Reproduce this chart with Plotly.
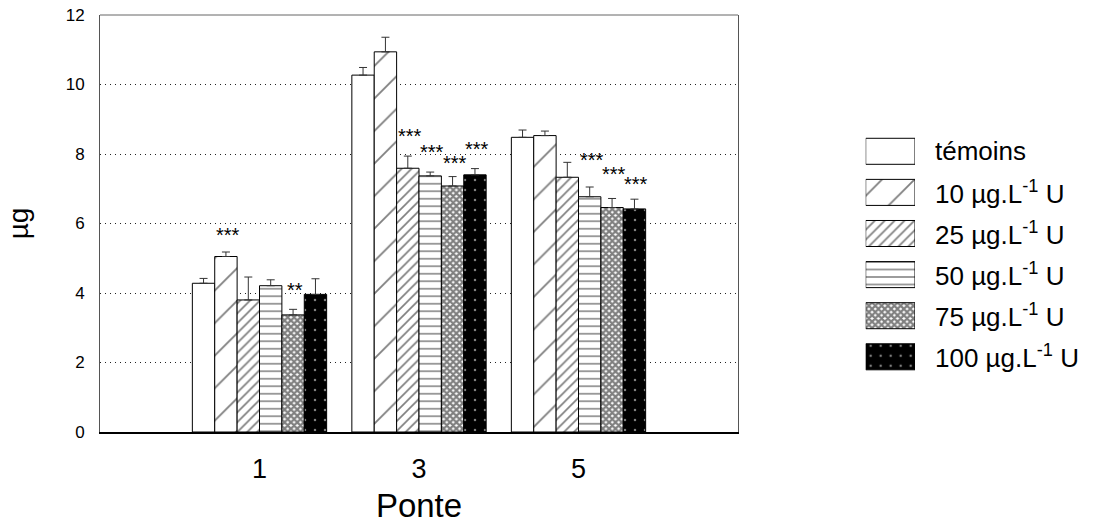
import plotly.graph_objects as go

# ---- data -------------------------------------------------------------
PONTES = ["1", "3", "5"]

SERIES = [
    "témoins",
    "10 µg.L<sup>-1</sup> U",
    "25 µg.L<sup>-1</sup> U",
    "50 µg.L<sup>-1</sup> U",
    "75 µg.L<sup>-1</sup> U",
    "100 µg.L<sup>-1</sup> U",
]

TEMOINS = [4.28, 10.27, 8.48]
U10 = [5.05, 10.94, 8.53]
U25 = [3.80, 7.59, 7.33]
U50 = [4.21, 7.37, 6.77]
U75 = [3.37, 7.08, 6.46]
U100 = [3.96, 7.40, 6.42]

ERR_TEMOINS = [0.14, 0.22, 0.21]
ERR_U10 = [0.13, 0.42, 0.13]
ERR_U25 = [0.66, 0.35, 0.43]
ERR_U50 = [0.17, 0.11, 0.28]
ERR_U75 = [0.16, 0.27, 0.26]
ERR_U100 = [0.45, 0.18, 0.28]

SIG_TEMOINS = ["", "", ""]
SIG_U10 = ["***", "", ""]
SIG_U25 = ["", "***", ""]
SIG_U50 = ["", "***", "***"]
SIG_U75 = ["**", "***", "***"]
SIG_U100 = ["", "***", "***"]

VALUES = [TEMOINS, U10, U25, U50, U75, U100]
ERRORS = [ERR_TEMOINS, ERR_U10, ERR_U25, ERR_U50, ERR_U75, ERR_U100]
SIGNIF = [SIG_TEMOINS, SIG_U10, SIG_U25, SIG_U50, SIG_U75, SIG_U100]

# ---- styles -----------------------------------------------------------
FONT = "Liberation Sans, Arial, sans-serif"
BARGAP = 0.158

PATTERNS = [
    dict(shape="", bgcolor="white", fgcolor="black"),
    dict(shape="/", size=23, solidity=0.08, bgcolor="white", fgcolor="black"),
    dict(shape="/", size=7, solidity=0.24, bgcolor="white", fgcolor="black"),
    dict(shape="-", size=7.5, solidity=0.2, bgcolor="white", fgcolor="black"),
    dict(shape="x", size=4.5, solidity=0.75, bgcolor="white", fgcolor="black"),
    dict(shape=".", size=10, solidity=0.05, bgcolor="black", fgcolor="white"),
]
FILLS = ["white", "white", "white", "white", "white", "black"]

# extra upward nudge (px) for each star label, so neighbours do not collide
STAR_NUDGE_PX = [
    [0, 0, 0],
    [0, 0, 0],
    [0, 3, 0],
    [0, 3, 10],
    [2, -3, 7],
    [0, 3, -2],
]

W, H = 1098, 524
PLOT_L, PLOT_R, PLOT_T, PLOT_B = 100, 738, 15, 432

fig = go.Figure()

# ---- grouped bars -----------------------------------------------------
for k, name in enumerate(SERIES):
    fig.add_trace(go.Bar(
        x=PONTES, y=VALUES[k], name=name, showlegend=False,
        marker=dict(color=FILLS[k], line=dict(color="black", width=1),
                    pattern=PATTERNS[k]),
        error_y=dict(type="data", array=ERRORS[k], arrayminus=[0] * len(PONTES),
                     symmetric=False, width=4, thickness=1, color="#333333"),
        xaxis="x", yaxis="y",
    ))

# significance stars above the error bars
n = len(SERIES)
bar_w = (1 - BARGAP) / n
for k in range(n):
    for g in range(len(PONTES)):
        txt = SIGNIF[k][g]
        if not txt:
            continue
        fig.add_annotation(
            x=g + (k - (n - 1) / 2) * bar_w, y=VALUES[k][g] + ERRORS[k][g],
            xref="x", yref="y", text=txt, showarrow=False,
            xanchor="center", yanchor="bottom", xshift=2,
            yshift=4 + STAR_NUDGE_PX[k][g],
            font=dict(family=FONT, size=20, color="black"),
        )

# ---- legend drawn as a small stacked panel of swatches ------------------
for k, name in enumerate(SERIES):
    fig.add_trace(go.Bar(
        x=[1], y=[k], orientation="h", width=0.633, base=0,
        showlegend=False, cliponaxis=False, hoverinfo="skip",
        marker=dict(color=FILLS[k], line=dict(color="black", width=1),
                    pattern=PATTERNS[k]),
        xaxis="x2", yaxis="y2",
    ))
    fig.add_annotation(
        x=1, y=k, xref="x2", yref="y2", text=name, showarrow=False,
        xanchor="left", yanchor="middle", xshift=18,
        font=dict(family=FONT, size=26, color="black"),
    )

# top border of the plot frame
fig.add_shape(type="line", xref="x domain", yref="y domain",
              x0=0, x1=1, y0=1, y1=1, line=dict(color="#666666", width=1))

LEG_X0, LEG_X1 = 865.7, 915.0
LEG_T, LEG_B = 130.75, 377.35

fig.update_layout(
    width=W, height=H,
    margin=dict(l=0, r=0, t=0, b=0),
    paper_bgcolor="white", plot_bgcolor="white",
    barmode="group", bargap=BARGAP, bargroupgap=0,
    font=dict(family=FONT, color="black"),
    xaxis=dict(
        domain=[PLOT_L / W, PLOT_R / W], anchor="y", automargin=False,
        type="category", range=[-1, 3],
        showline=True, linecolor="black", linewidth=2, mirror=False,
        showgrid=False, zeroline=False, ticks="",
        ticklabelstandoff=12,
        tickfont=dict(family=FONT, size=27, color="black"),
        title=dict(text="Ponte", font=dict(family=FONT, size=33, color="black"),
                   standoff=19),
    ),
    yaxis=dict(
        domain=[1 - PLOT_B / H, 1 - PLOT_T / H], anchor="x", automargin=False,
        range=[0, 12], tickvals=[0, 2, 4, 6, 8, 10, 12],
        showline=True, linecolor="#555555", linewidth=1, mirror=True,
        showgrid=True, gridcolor="#222222", gridwidth=1, griddash="1px,4px",
        zeroline=False, ticks="", ticklabelstandoff=11,
        tickfont=dict(family=FONT, size=17, color="black"),
        title=dict(text="µg", font=dict(family=FONT, size=28, color="black"),
                   standoff=28),
    ),
    xaxis2=dict(domain=[LEG_X0 / W, LEG_X1 / W], anchor="y2", range=[0, 1],
                visible=False, fixedrange=True),
    yaxis2=dict(domain=[1 - LEG_B / H, 1 - LEG_T / H], anchor="x2",
                range=[5.5, -0.5], visible=False, fixedrange=True),
)

fig.write_html("out.html")
